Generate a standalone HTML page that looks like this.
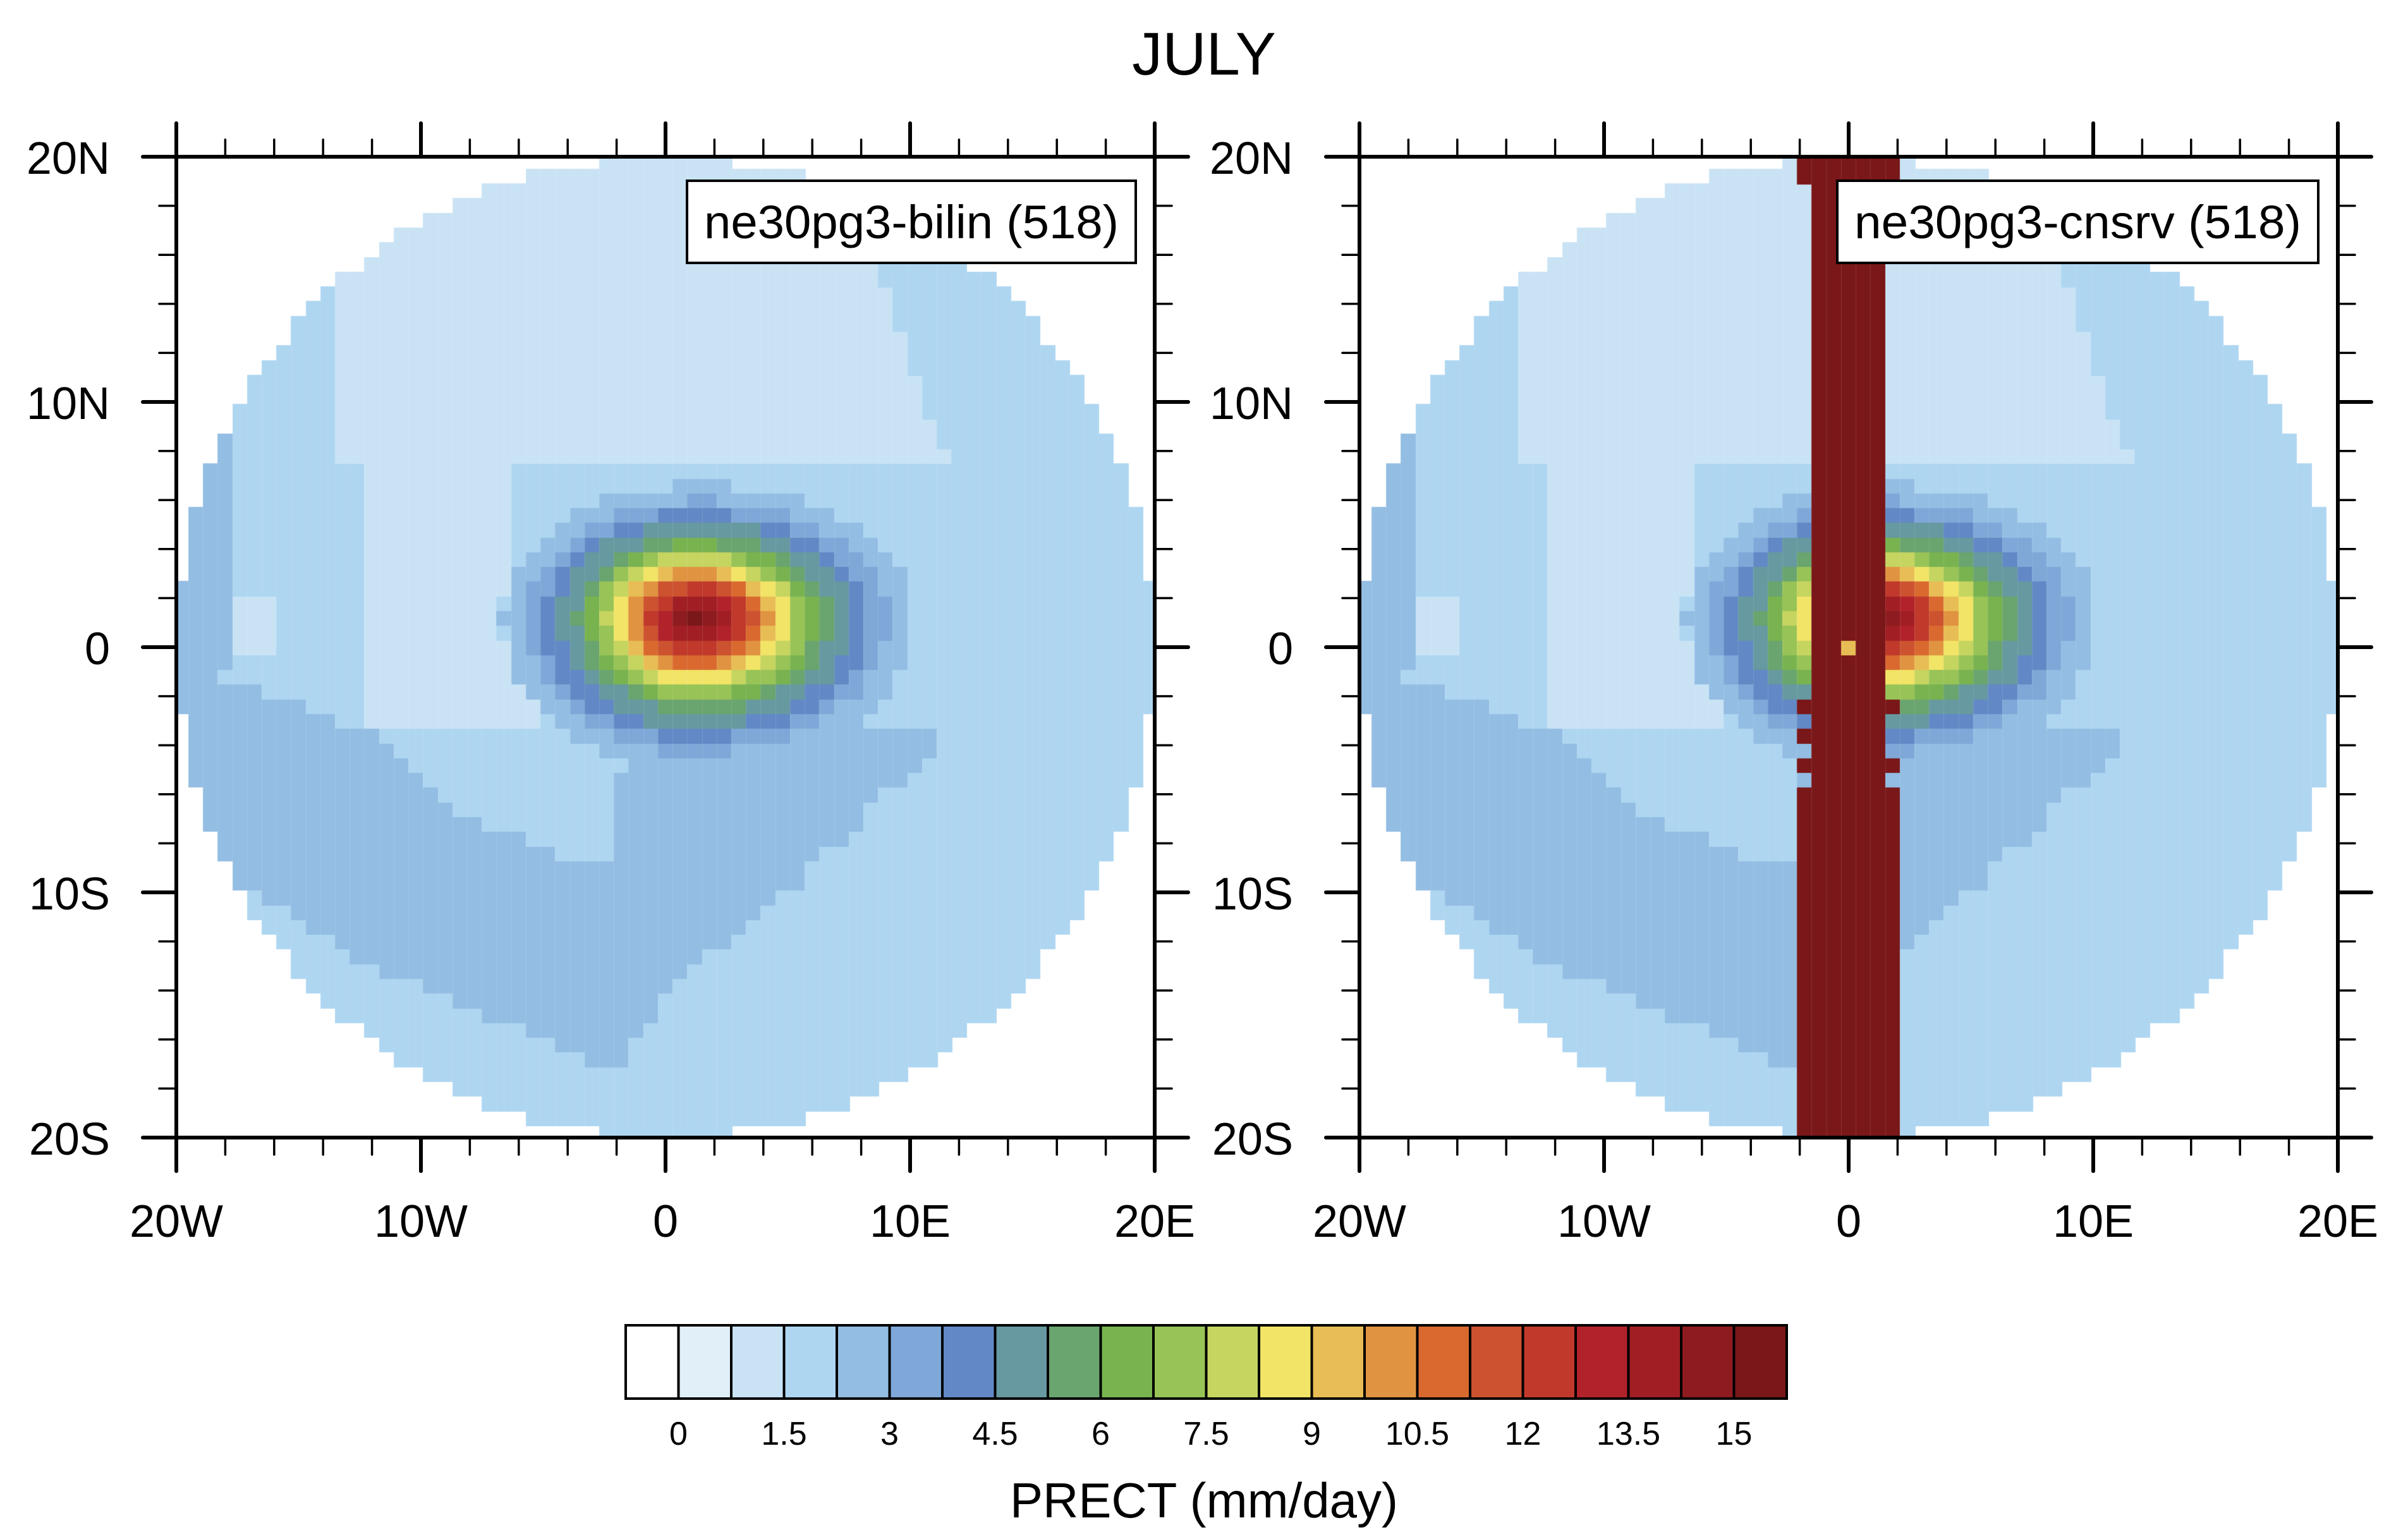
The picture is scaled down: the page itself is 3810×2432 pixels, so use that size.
<!DOCTYPE html>
<html><head><meta charset="utf-8"><style>
html,body{margin:0;padding:0;background:#fff;}
body{width:3810px;height:2432px;position:relative;overflow:hidden;font-family:"Liberation Sans",sans-serif;}
canvas{position:absolute;}
svg{position:absolute;left:0;top:0;}
</style></head><body>
<canvas id="c1" style="left:279px;top:248px" width="1548" height="1552"></canvas>
<canvas id="c2" style="left:2151px;top:248px" width="1548" height="1552"></canvas>
<svg width="3810" height="2432" id="s">
<text x="1905" y="118" font-size="96" text-anchor="middle" font-family="Liberation Sans, sans-serif">JULY</text>
</svg>
<script>
var C=["#ffffff","#e1eff9","#c9e3f5","#aed6f1","#93bde3","#7fa8d8","#6289c5","#6699a0","#6aa46e","#78b350","#98c356","#c5d560","#f2e466","#e8bd55","#e09340","#d9692f","#cc5230","#c0392b","#b2222b","#a11f24","#8e1b1f","#7a1719"];
function interp(pts,x){if(x<=pts[0][0])return pts[0][1];for(var i=1;i<pts.length;i++){if(x<=pts[i][0]){var a=pts[i-1],b=pts[i];return a[1]+(b[1]-a[1])*(x-a[0])/(b[0]-a[0]);}}return pts[pts.length-1][1];}
var UB=[[-20,-0.5],[-12,-3.5],[-8,-7],[-4,-8.5],[-2.2,-8.5],[-1.5,-3],[11,-3]];
var LB=[[-20,-8],[-12,-13],[-5,-16],[-2,-17.5],[0,-14],[5,-10],[8,-7],[11,-4]];
var DM=[[0,21.9],[0.45,17],[0.82,12],[1.0,10],[1.2,8],[1.4,7],[1.55,6],[1.72,5],[1.95,4],[2.05,0]];
function field(lon,lat){
 var c=3;
 if(lat>7.5&&lat<19.9&&lon>-13.5&&lon<7.5+(19-lat)*0.35)c=2;
 if(lat>-3.5&&lat<=7.5&&lon>-12.5&&lon<-6.5)c=2;
 if(lat>-3.5&&lat<0.5&&lon>-9&&lon<-5)c=2;
 if(lat>-0.1&&lat<2.1&&lon>-18.5&&lon<-16)c=2;
 if(lon<-17.5&&lat>-1&&lat<8.5)c=4;
 if(lon<11&&lat<interp(UB,lon)&&lat>interp(LB,lon))c=4;
 var ax=lon>1.2?4.6:4.0, ay=lat<1.2?3.2:2.8;
 var d=Math.sqrt(Math.pow((lon-1.2)/ax,2)+Math.pow((lat-1.2)/ay,2));
 if(d<2.05){var v=Math.floor(interp(DM,d));if(v>c)c=v;}
 return c;
}
function draw(id,strip){
 var cv=document.getElementById(id),g=cv.getContext('2d');
 var W=cv.width,H=cv.height;
 for(var i=-33;i<=33;i++)for(var j=-33;j<=33;j++){
  var lon=i*0.6,lat=j*0.6;
  var inD=lon*lon+lat*lat<=400.5;
  var c=-1;
  if(inD)c=field(lon,lat);
  if(strip){
   var wide=Math.abs(lon)<2.2, nar=Math.abs(lon)<1.6;
   var s=false;
   if(j>=32)s=wide;
   else if(j>=-3)s=nar;
   else if(j==-4||j==-8||j<=-10)s=wide;
   else if(j==-6)s=nar||(lon<-1.6&&lon>-2.2);
   else s=nar;
   if(s)c=21;
   if(i==0&&j==0)c=13;
  }
  if(c<0)continue;
  var x0=(lon-0.3+20)/40*W,x1=(lon+0.3+20)/40*W;
  var y0=(20-(lat+0.3))/40*H,y1=(20-(lat-0.3))/40*H;
  x0=Math.max(0,x0);x1=Math.min(W,x1);y0=Math.max(0,y0);y1=Math.min(H,y1);
  g.fillStyle=C[c];g.fillRect(Math.floor(x0),Math.floor(y0),Math.ceil(x1-x0)+1,Math.ceil(y1-y0)+1);
  g.fillStyle="rgba(255,255,255,0.12)";g.fillRect(Math.floor(x0),Math.floor(y0),1,Math.ceil(y1-y0)+1);g.fillRect(Math.floor(x0),Math.floor(y0),Math.ceil(x1-x0)+1,1);
 }
}
draw('c1',false);draw('c2',true);
var s=document.getElementById('s'),h='';
function L(x1,y1,x2,y2,w){h+='<line x1="'+x1+'" y1="'+y1+'" x2="'+x2+'" y2="'+y2+'" stroke="#000" stroke-width="'+w+'" stroke-linecap="round"/>';}
function T(x,y,t,sz,a){h+='<text x="'+x+'" y="'+y+'" font-size="'+sz+'" text-anchor="'+a+'" font-family="Liberation Sans, sans-serif">'+t+'</text>';}
function panel(X0,lab,bx0,bx1){
 var Y0=248,W=1548,H=1552,X1=X0+W,Y1=Y0+H;
 for(var k=0;k<=20;k++){
  var x=X0+W*k/20,y=Y0+H*k/20,maj=(k%5==0),len=maj?53:27,w=maj?6:3.5;
  L(x,Y0,x,Y0-len,w);L(x,Y1,x,Y1+len,w);
  L(X0,y,X0-len,y,w);L(X1,y,X1+len,y,w);
 }
 h+='<rect x="'+X0+'" y="'+Y0+'" width="'+W+'" height="'+H+'" fill="none" stroke="#000" stroke-width="6"/>';
 var xl=['20W','10W','0','10E','20E'],yl=['20N','10N','0','10S','20S'];
 for(var k=0;k<5;k++){T(X0+W*k/4,1957,xl[k],72,'middle');T(X0-105,Y0+H*k/4+27,yl[k],72,'end');}
 h+='<rect x="'+bx0+'" y="286" width="'+(bx1-bx0)+'" height="130" fill="#fff" stroke="#000" stroke-width="4"/>';
 h+='<text x="'+(bx0+(bx1-bx0)/2)+'" y="377" font-size="74" text-anchor="middle" textLength="'+(bx1-bx0-54)+'" lengthAdjust="spacingAndGlyphs" font-family="Liberation Sans, sans-serif">'+lab+'</text>';
}
panel(279,'ne30pg3-bilin (518)',1087,1797);
panel(2151,'ne30pg3-cnsrv (518)',2907,3668);
var cx0=990,cw=83.5,cy0=2097,cy1=2213;
for(var i=0;i<22;i++){h+='<rect x="'+(cx0+i*cw)+'" y="'+cy0+'" width="'+cw+'" height="'+(cy1-cy0)+'" fill="'+C[i]+'" stroke="#000" stroke-width="4"/>';}
var lb=['0','1.5','3','4.5','6','7.5','9','10.5','12','13.5','15'];
for(var i=0;i<11;i++){T(cx0+cw*(1+2*i),2286,lb[i],52,'middle');}
T(1905,2401,'PRECT (mm/day)',78,'middle');
s.innerHTML+=h;
</script>
</body></html>
